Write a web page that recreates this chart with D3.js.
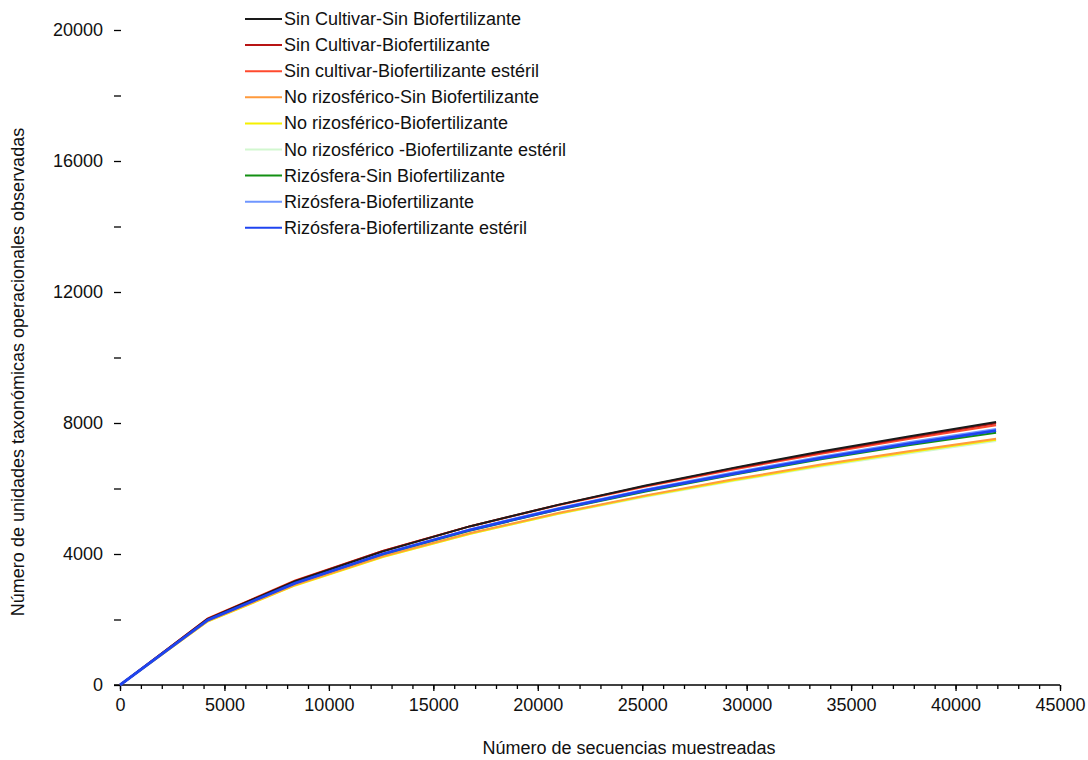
<!DOCTYPE html>
<html>
<head>
<meta charset="utf-8">
<script src="https://cdnjs.cloudflare.com/ajax/libs/d3/7.8.5/d3.min.js"></script>
<style>
body { margin: 0; background: #fff; }
text { font-family: "Liberation Sans", Arial, sans-serif; }
</style>
</head>
<body>
<div id="grafico"></div>
<script>
// dati
var secuencias = [0, 4194, 8388, 12582, 16776, 20970, 25164, 29358, 33552, 37746, 41940];

var nombres = [
  "Sin Cultivar-Sin Biofertilizante",
  "Sin Cultivar-Biofertilizante",
  "Sin cultivar-Biofertilizante estéril",
  "No rizosférico-Sin Biofertilizante",
  "No rizosférico-Biofertilizante",
  "No rizosférico -Biofertilizante estéril",
  "Rizósfera-Sin Biofertilizante",
  "Rizósfera-Biofertilizante",
  "Rizósfera-Biofertilizante estéril"
];

var colores = ["#1a1a1a", "#b81414", "#ff4a2e", "#ff9a3c", "#f5f000", "#d2f7cf", "#139013", "#6f96ff", "#1f44f0"];

var sinCultivarSinBio   = [0, 2010, 3170, 4080, 4850, 5500, 6090, 6630, 7130, 7590, 8030];
var sinCultivarBio      = [0, 2020, 3180, 4090, 4850, 5500, 6080, 6610, 7100, 7560, 7990];
var sinCultivarEsteril  = [0, 2030, 3190, 4090, 4850, 5490, 6060, 6580, 7060, 7510, 7930];
var noRizoSinBio        = [0, 1950, 3060, 3930, 4640, 5250, 5790, 6280, 6730, 7140, 7520];
var noRizoBio           = [0, 1940, 3040, 3910, 4620, 5230, 5770, 6250, 6700, 7110, 7490];
var noRizoEsteril       = [0, 1945, 3050, 3915, 4620, 5220, 5750, 6230, 6670, 7070, 7450];
var rizosferaSinBio     = [0, 1980, 3110, 3990, 4720, 5350, 5910, 6420, 6890, 7320, 7700];
var rizosferaBio        = [0, 1990, 3130, 4020, 4760, 5400, 5970, 6490, 6970, 7410, 7820];
var rizosferaEsteril    = [0, 1980, 3110, 4000, 4740, 5370, 5940, 6450, 6930, 7360, 7770];

var serie = [sinCultivarSinBio, sinCultivarBio, sinCultivarEsteril, noRizoSinBio, noRizoBio,
             noRizoEsteril, rizosferaSinBio, rizosferaBio, rizosferaEsteril];

var larghezza = 1088;
var altezza = 760;
var dimTesto = 18;

var scalaX = d3.scaleLinear().domain([0, 45000]).range([120, 1060]);
var scalaY = d3.scaleLinear().domain([0, 20000]).range([685, 30]);

var svg = d3.select("#grafico")
  .append("svg")
  .attr("width", larghezza)
  .attr("height", altezza);

// asse x
var assX = svg.append("g").attr("transform", "translate(0,685)");
assX.call(d3.axisBottom(scalaX).tickValues(d3.range(0, 45001, 1000)).tickSize(4).tickFormat(""));
assX.call(function(g) {
  g.select(".domain").attr("d", "M114,0H1060").attr("stroke", "#000").attr("stroke-width", 1.5);
  g.selectAll(".tick line").attr("stroke", "#000").attr("stroke-width", 1.3);
});
var assX2 = svg.append("g").attr("transform", "translate(0,685)");
assX2.call(d3.axisBottom(scalaX).tickValues(d3.range(0, 45001, 5000)).tickSize(6).tickPadding(7).tickFormat(d3.format("d")));
assX2.select(".domain").remove();
assX2.selectAll(".tick line").attr("stroke", "#000").attr("stroke-width", 1.3);
assX2.selectAll(".tick text").attr("font-size", dimTesto).attr("fill", "#111").attr("font-family", "Liberation Sans, Arial, sans-serif");

// asse y
var assY = svg.append("g").attr("transform", "translate(121,0)");
assY.call(d3.axisLeft(scalaY).tickValues(d3.range(0, 20001, 2000)).tickSize(7).tickPadding(11)
  .tickFormat(function(d) { return d % 4000 == 0 ? d : ""; }));
assY.select(".domain").remove();
assY.selectAll(".tick line").attr("stroke", "#000").attr("stroke-width", 1.3);
assY.selectAll(".tick text").attr("font-size", dimTesto).attr("fill", "#111").attr("font-family", "Liberation Sans, Arial, sans-serif");

// titoli
svg.append("text")
  .attr("x", 629).attr("y", 754)
  .attr("text-anchor", "middle")
  .attr("font-size", dimTesto).attr("fill", "#111")
  .text("Número de secuencias muestreadas");

svg.append("text")
  .attr("transform", "translate(24,372) rotate(-90)")
  .attr("text-anchor", "middle")
  .attr("font-size", dimTesto).attr("fill", "#111")
  .text("Número de unidades taxonómicas operacionales observadas");

// linee
var linea = d3.line()
  .x(function(d, i) { return scalaX(secuencias[i]); })
  .y(function(d) { return scalaY(d); });

var ordine = [5, 4, 3, 6, 7, 2, 1, 0, 8];
ordine.forEach(function(k) {
  svg.append("path")
    .datum(serie[k])
    .attr("d", linea)
    .attr("fill", "none")
    .attr("stroke", colores[k])
    .attr("stroke-width", k == 8 ? 2.8 : 2)
    .attr("stroke-linejoin", "round");
});

// legenda
var legenda = svg.append("g");
nombres.forEach(function(n, i) {
  var y = 19 + i * 26.1;
  legenda.append("line")
    .attr("x1", 245).attr("x2", 282)
    .attr("y1", y).attr("y2", y)
    .attr("stroke", colores[i])
    .attr("stroke-width", 2);
  legenda.append("text")
    .attr("x", 284).attr("y", y + 6)
    .attr("font-size", dimTesto).attr("fill", "#111")
    .text(n);
});
</script>
</body>
</html>
